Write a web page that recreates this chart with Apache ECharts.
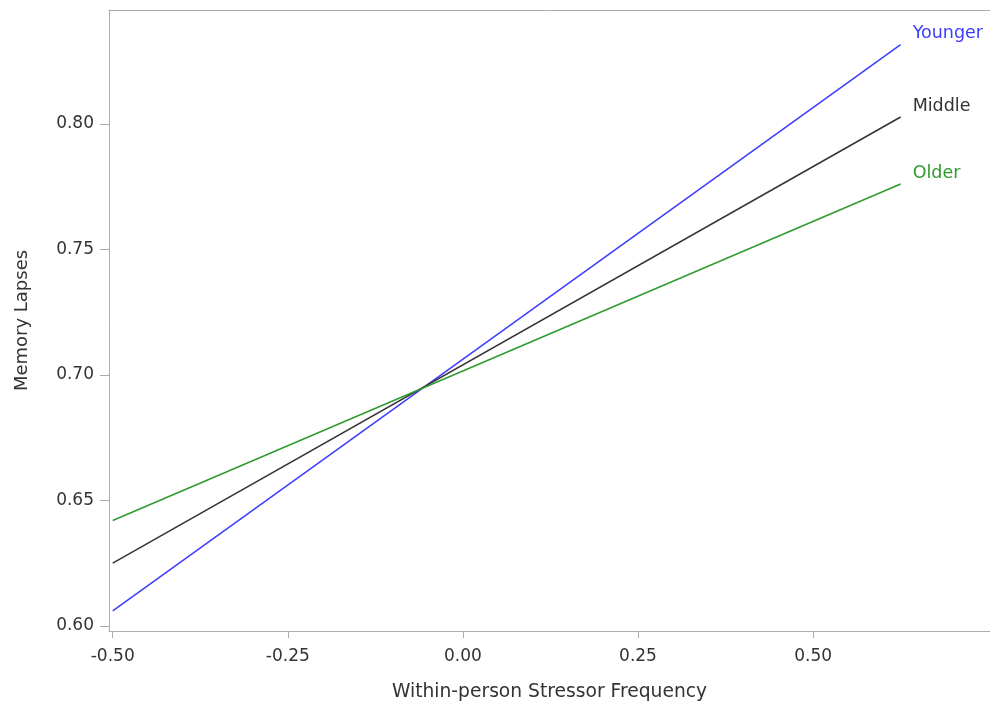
<!DOCTYPE html>
<html>
<head>
<meta charset="utf-8">
<script src="https://cdn.jsdelivr.net/npm/echarts@6/dist/echarts.min.js"></script>
<style>
  html, body { margin: 0; padding: 0; background: #fff; }
  #chart { width: 990px; height: 703px; }
</style>
</head>
<body>
<div id="chart"></div>
<script>
// stressor frequency endpoints of the fitted lines
var stressX = [-0.5, 0.625]
var younger = [0.606, 0.8315]
var middle = [0.625, 0.8027]
var older = [0.642, 0.776]
var xTicks = [-0.5, -0.25, 0, 0.25, 0.5]
var yTicks = [0.6, 0.65, 0.7, 0.75, 0.8]

var axisColor = '#a9adb2'
var textColor = '#333'
var font = 'DejaVu Sans'

function pairs (ys) {
  return stressX.map(function (x, i) { return [x, ys[i]] })
}

function makeLine (name, ys, color) {
  return {
    name: name,
    type: 'line',
    data: pairs(ys),
    symbol: 'none',
    silent: true,
    lineStyle: { width: 1.5, color: color },
    endLabel: {
      show: true,
      formatter: name,
      color: color,
      fontFamily: font,
      fontSize: 17.5,
      align: 'left',
      offset: [4, -11]
    }
  }
}

var option = {
  animation: false,
  grid: {
    left: 109,
    top: 10,
    right: 0,
    bottom: 72,
    outerBoundsMode: 'none'
  },
  xAxis: [{
    type: 'value',
    min: -0.5053,
    max: 0.7526,
    name: 'Within-person Stressor Frequency',
    nameLocation: 'middle',
    nameGap: 52,
    nameTextStyle: { color: textColor, fontFamily: font, fontSize: 18.7 },
    axisLine: { show: true, onZero: false, lineStyle: { color: axisColor } },
    axisTick: { show: true, length: 7, customValues: xTicks, lineStyle: { color: axisColor } },
    axisLabel: {
      customValues: xTicks,
      margin: 17,
      color: textColor,
      fontFamily: font,
      fontSize: 17,
      formatter: function (v) { return v.toFixed(2) }
    },
    splitLine: { show: false }
  }, {
    // top frame line only
    type: 'value',
    position: 'top',
    min: -0.5053,
    max: 0.7526,
    axisLine: { show: true, onZero: false, lineStyle: { color: axisColor } },
    axisTick: { show: false },
    axisLabel: { show: false },
    splitLine: { show: false }
  }],
  yAxis: {
    type: 'value',
    min: 0.598,
    max: 0.8453,
    name: 'Memory Lapses',
    nameLocation: 'middle',
    nameGap: 78,
    nameTextStyle: { color: textColor, fontFamily: font, fontSize: 18 },
    axisLine: { show: true, onZero: false, lineStyle: { color: axisColor } },
    axisTick: { show: true, length: 9, customValues: yTicks, lineStyle: { color: axisColor } },
    axisLabel: {
      customValues: yTicks,
      margin: 15,
      color: textColor,
      fontFamily: font,
      fontSize: 17,
      formatter: function (v) { return v.toFixed(2) }
    },
    splitLine: { show: false }
  },
  series: [
    makeLine('Younger', younger, '#3c3cff'),
    makeLine('Middle', middle, '#333333'),
    makeLine('Older', older, '#2f9a2f')
  ]
}

var myChart = echarts.init(document.getElementById('chart'))
myChart.setOption(option)
</script>
</body>
</html>
